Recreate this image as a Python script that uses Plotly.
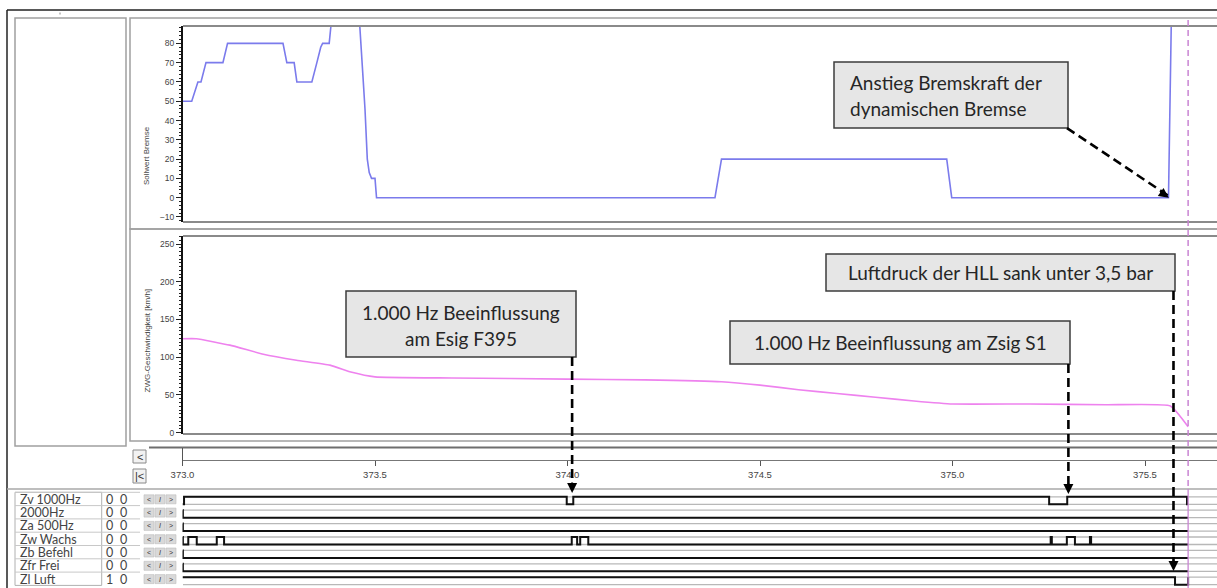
import plotly.graph_objects as go

W, H = 1217, 588

# ---------------- data ----------------
# Sollwert Bremse (top panel)
brake_t = [373.000, 373.024, 373.040, 373.048, 373.061, 373.105, 373.117, 373.261, 373.271, 373.290,
           373.297, 373.336, 373.349, 373.359, 373.364, 373.381, 373.391, 373.457, 373.469, 373.474,
           373.480, 373.485, 373.491, 373.500, 373.504, 374.383, 374.400, 374.985, 374.998, 375.561,
           375.569, 375.612]
brake_v = [50, 50, 60, 60, 70, 70, 80, 80, 70, 70,
           60, 60, 70, 78, 80, 80, 100, 100, 62, 46,
           20, 13, 10, 10, 0, 0, 20, 20, 0, 0,
           100, 100]

# ZWG-Geschwindigkeit [km/h] (middle panel)
speed_t = [373.000, 373.036, 373.123, 373.210, 373.296, 373.383, 373.440, 373.500, 373.700, 374.000,
           374.200, 374.400, 374.500, 374.600, 374.700, 374.800, 374.900, 375.000, 375.200, 375.400,
           375.566, 375.612]
speed_v = [124.5, 124.5, 116, 104, 96, 89.5, 80, 74, 72.5, 71,
           70, 67.5, 63, 57, 52, 47, 42, 38, 38, 37,
           35.5, 8]

x_ticks = [373.0, 373.5, 374.0, 374.5, 375.0, 375.5]
y1_ticks = [-10, 0, 10, 20, 30, 40, 50, 60, 70, 80]
y2_ticks = [0, 50, 100, 150, 200, 250]

# digital signals (bottom panel)
signal_names = ["Zv 1000Hz", "2000Hz", "Za 500Hz", "Zw Wachs", "Zb Befehl", "Zfr Frei", "Zl Luft"]
signal_col1 = [0, 0, 0, 0, 0, 0, 1]
signal_col2 = [0, 0, 0, 0, 0, 0, 0]

zv_t = [373.000, 373.004, 373.998, 374.015, 375.251, 375.298, 375.609, 375.612]
zv_v = [0, 1, 0, 1, 0, 1, 0, 0]
hz2000_t = [373.000, 373.001, 375.612]
hz2000_v = [1, 0, 0]
za_t = [373.000, 373.001, 375.612]
za_v = [1, 0, 0]
zw_t = [373.000, 373.001, 373.015, 373.037, 373.089, 373.108, 374.011, 374.025, 374.033, 374.054,
        375.255, 375.258, 375.297, 375.318, 375.357, 375.360, 375.612]
zw_v = [1, 0, 1, 0, 1, 0, 1, 0, 1, 0,
        1, 0, 1, 0, 1, 0, 0]
zb_t = [373.000, 373.001, 375.612]
zb_v = [1, 0, 0]
zfr_t = [373.000, 373.001, 375.612]
zfr_v = [1, 0, 0]
zl_t = [373.000, 375.578, 375.612]
zl_v = [1, 0, 1]
signals = [(zv_t, zv_v), (hz2000_t, hz2000_v), (za_t, za_v), (zw_t, zw_v),
           (zb_t, zb_v), (zfr_t, zfr_v), (zl_t, zl_v)]

T0, T1 = 373.0, 375.687
T_CURSOR = 375.612

# event markers (time of arrow tips)
t_esig = 374.012
t_zsig = 375.301
t_luft = 375.574
t_brake = 375.562

# ---------------- helpers ----------------
def PX(x):
    return x / W


def PY(y):
    return 1 - y / H


HIGH = 0.56  # row units for a "1"

shapes = []
annotations = []


def pline(x0, y0, x1, y1, color, width, dash=None, layer="above"):
    ln = dict(color=color, width=width)
    if dash:
        ln["dash"] = dash
    shapes.append(dict(type="line", xref="paper", yref="paper", x0=PX(x0), y0=PY(y0),
                       x1=PX(x1), y1=PY(y1), line=ln, layer=layer))


def prect(x0, y0, x1, y1, color, width, fill="rgba(0,0,0,0)", layer="below"):
    shapes.append(dict(type="rect", xref="paper", yref="paper", x0=PX(x0), y0=PY(y0),
                       x1=PX(x1), y1=PY(y1), line=dict(color=color, width=width),
                       fillcolor=fill, layer=layer))


def ptext(x, y, text, size, color="#333", xanchor="center", family="Lato"):
    annotations.append(dict(x=PX(x), y=PY(y), xref="paper", yref="paper", text=text,
                            showarrow=False, xanchor=xanchor, yanchor="middle",
                            font=dict(family=family, size=size, color=color)))


fig = go.Figure()

# ---------------- traces ----------------
fig.add_trace(go.Scatter(x=brake_t, y=brake_v, mode="lines", xaxis="x", yaxis="y",
                         line=dict(color="#7b7bec", width=1.6), hoverinfo="skip"))
fig.add_trace(go.Scatter(x=speed_t, y=speed_v, mode="lines", xaxis="x2", yaxis="y2",
                         line=dict(color="#ee82ee", width=1.6, shape="spline", smoothing=0.4),
                         hoverinfo="skip"))

for i, (st, sv) in enumerate(signals):
    ys = [i - HIGH * v for v in sv]
    fig.add_trace(go.Scatter(x=st, y=ys, mode="lines", xaxis="x3", yaxis="y3",
                             line=dict(color="#111", width=2, shape="hv"), hoverinfo="skip"))
    # gray guide lines at both levels
    for lev in (i, i - HIGH):
        shapes.append(dict(type="line", xref="paper", yref="y3", x0=PX(183), x1=1.0,
                           y0=lev, y1=lev, line=dict(color="#b8b8b8", width=1.3), layer="below"))

# ---------------- frames ----------------
pline(7, 10, 1217, 10, "#222", 1.5)
pline(7, 10, 7, 588, "#222", 1.5)
pline(60, 12.5, 60, 14.5, "#888", 1)
prect(15, 18, 126, 446, "#a0a0a0", 1.5)
prect(130, 18, 1220, 229, "#a0a0a0", 1.5)
prect(130, 229, 1220, 441, "#a0a0a0", 1.5)
pline(183, 26, 1217, 26, "#8a8a8a", 2)
pline(183, 222, 1217, 222, "#8a8a8a", 2)
pline(183, 236, 1217, 236, "#8a8a8a", 2)
pline(183, 434, 1217, 434, "#8a8a8a", 2)
pline(149, 447.5, 1217, 447.5, "#6e6e6e", 2.2)
pline(182.5, 448, 182.5, 465, "#555", 1)
pline(7, 489, 1217, 489, "#a8a8a8", 1.5)

# scroll buttons
prect(133, 450, 146, 463, "#8a8a8a", 1, fill="#f2f2f2")
prect(133, 469, 146, 483, "#8a8a8a", 1, fill="#f2f2f2")
ptext(139.5, 456.5, "<", 11, "#333", family="Liberation Sans")
ptext(139.5, 476, "|<", 11, "#333", family="Liberation Sans")

# signal label table
prect(15, 492.3, 101.7, 585.4, "#b0b0b0", 1, fill="white")
for i, name in enumerate(signal_names):
    top = 492.3 + 13.3 * i
    cy = top + 6.9
    pline(15, top, 140, top, "#c8c8c8", 1, layer="below")
    ptext(18, cy, name, 12.5, "#444", xanchor="left", family="Lato")
    ptext(110, cy, str(signal_col1[i]), 12.5, "#444")
    ptext(123, cy, str(signal_col2[i]), 12.5, "#444")
    for j, g in enumerate(["<", "<i>I</i>", ">"]):
        bx = 144 + 11 * j
        prect(bx, top + 2.5, bx + 10, top + 11.5, "#bdbdbd", 0.6, fill="#d9d9d9")
        ptext(bx + 5, cy, g, 7, "#333", family="Liberation Sans")

# cursor line
shapes.append(dict(type="line", xref="x", yref="paper", x0=T_CURSOR, x1=T_CURSOR,
                   y0=PY(20), y1=PY(489), line=dict(color="#c985d3", width=1.5, dash="6px,4px"),
                   layer="above"))
shapes.append(dict(type="line", xref="x", yref="paper", x0=T_CURSOR, x1=T_CURSOR,
                   y0=PY(489), y1=0, line=dict(color="#c985d3", width=1.3), layer="above"))

# ---------------- callout boxes ----------------
BOX_FILL = "#e6e6e6"
BOX_LINE = "#3c3c3c"
TXT = dict(size=19, color="#262626")

prect(834, 62, 1068, 128, BOX_LINE, 1.5, fill=BOX_FILL, layer="above")
ptext(848, 82, "Anstieg Bremskraft der", TXT["size"], TXT["color"], xanchor="left")
ptext(848, 108.5, "dynamischen Bremse", TXT["size"], TXT["color"], xanchor="left")

prect(346, 291, 576, 357, BOX_LINE, 1.5, fill=BOX_FILL, layer="above")
ptext(461, 312, "1.000 Hz Beeinflussung", TXT["size"], TXT["color"])
ptext(461, 338, "am Esig F395", TXT["size"], TXT["color"])

prect(730, 321, 1070, 364, BOX_LINE, 1.5, fill=BOX_FILL, layer="above")
ptext(900, 342.5, "1.000 Hz Beeinflussung am Zsig S1", TXT["size"], TXT["color"])

prect(826, 254, 1175, 291, BOX_LINE, 1.5, fill=BOX_FILL, layer="above")
ptext(1000, 272.5, "Luftdruck der HLL sank unter 3,5 bar", TXT["size"], TXT["color"])

# ---------------- dashed arrows ----------------
DASH = "9px,5px"
# diagonal arrow to brake rise (top panel coordinates)
tail_t = T0 + (1067 - 182.5) / 385.0
shapes.append(dict(type="line", xref="x", yref="y", x0=tail_t, y0=36.1, x1=t_brake, y1=0.8,
                   line=dict(color="black", width=2.6, dash=DASH), layer="above"))
annotations.append(dict(x=t_brake, y=0, xref="x", yref="y", text="", showarrow=True,
                        arrowhead=2, arrowsize=1, arrowwidth=2, arrowcolor="black",
                        ax=-0.822 * 12, ay=-0.570 * 12, standoff=0))

for t, y_from, y_to in [(t_esig, 357, 493), (t_zsig, 364, 494), (t_luft, 291, 571)]:
    shapes.append(dict(type="line", xref="x", yref="paper", x0=t, x1=t, y0=PY(y_from),
                       y1=PY(y_to - 4), line=dict(color="black", width=2.6, dash=DASH),
                       layer="above"))
    annotations.append(dict(x=t, y=PY(y_to), xref="x", yref="paper", text="", showarrow=True,
                            arrowhead=2, arrowsize=1, arrowwidth=2, arrowcolor="black",
                            ax=0, ay=-12, standoff=0))

# y-axis titles
annotations.append(dict(x=PX(140), y=PY(124), xref="paper", yref="paper", text="Sollwert Bremse",
                        showarrow=False, textangle=-90, font=dict(family="Liberation Sans", size=8, color="#444")))
annotations.append(dict(x=PX(140), y=PY(341), xref="paper", yref="paper",
                        text="ZWG-Geschwindigkeit [km/h]", showarrow=False, textangle=-90,
                        font=dict(family="Liberation Sans", size=8, color="#444")))

# ---------------- layout ----------------
XDOM = [182.5 / W, 1.0]
tickfont = dict(family="Liberation Sans", size=8.5, color="#444")

fig.update_layout(
    template="none",
    width=W, height=H, autosize=False,
    margin=dict(l=0, r=0, t=0, b=0, pad=0, autoexpand=False),
    paper_bgcolor="white", plot_bgcolor="white",
    showlegend=False,
    xaxis=dict(domain=XDOM, range=[T0, T1], anchor="y", showticklabels=False, showgrid=False,
               zeroline=False, showline=False, ticks="", automargin=False),
    yaxis=dict(domain=[PY(222), PY(26)], range=[-12.6, 89.0], anchor="x", tickvals=y1_ticks,
               ticks="outside", ticklen=5, tickcolor="#222", showline=True, linecolor="#111",
               linewidth=1.5, showgrid=False, zeroline=False, tickfont=tickfont, automargin=False,
               minor=dict(dtick=2, tick0=0, ticks="outside", ticklen=2.5, tickcolor="#222")),
    xaxis2=dict(domain=XDOM, range=[T0, T1], anchor="free", position=PY(459.6), tickvals=x_ticks,
                ticktext=["%.1f" % v for v in x_ticks], ticks="outside", ticklen=5,
                tickcolor="#555", showline=True, linecolor="#777", linewidth=1.5, showgrid=False,
                zeroline=False, automargin=False,
                tickfont=dict(family="Liberation Sans", size=9.5, color="#444")),
    yaxis2=dict(domain=[PY(434), PY(236)], range=[-1.72, 260.6], anchor="x2", tickvals=y2_ticks,
                ticks="outside", ticklen=5, tickcolor="#222", showline=True, linecolor="#111",
                linewidth=1.5, showgrid=False, zeroline=False, tickfont=tickfont, automargin=False,
                minor=dict(dtick=5, tick0=0, ticks="outside", ticklen=2.5, tickcolor="#222")),
    xaxis3=dict(domain=XDOM, range=[T0, T1], anchor="y3", visible=False, automargin=False),
    yaxis3=dict(domain=[0, PY(488)], range=[6.246, -1.216], anchor="x3", visible=False,
                automargin=False),
    shapes=shapes,
    annotations=annotations,
)

fig.write_html("out.html",
               config={"displayModeBar": False, "staticPlot": True},
               post_script="document.body.style.margin='0';document.body.style.padding='0';"
                           "document.body.style.overflow='hidden';")
